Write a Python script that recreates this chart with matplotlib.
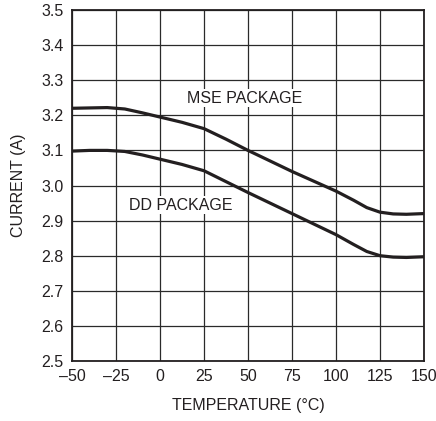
import matplotlib
matplotlib.use("Agg")
import matplotlib.pyplot as plt
from matplotlib import font_manager

# pick a narrow sans if present
names = {f.name for f in font_manager.fontManager.ttflist}
family = "Liberation Sans Narrow" if "Liberation Sans Narrow" in names else "Liberation Sans"
plt.rcParams["font.family"] = [family, "DejaVu Sans"]

temp = [-50, -40, -30, -20, -10, 0, 12.5, 25, 37.5, 50, 62.5, 75, 87.5,
        100, 110, 117.5, 125, 132.5, 140, 150]
mse_current = [3.220, 3.221, 3.222, 3.218, 3.207, 3.195, 3.180, 3.162, 3.132,
               3.100, 3.070, 3.040, 3.012, 2.984, 2.958, 2.937, 2.924, 2.919,
               2.918, 2.920]
dd_current = [3.098, 3.100, 3.100, 3.097, 3.087, 3.075, 3.060, 3.042, 3.011,
              2.980, 2.950, 2.920, 2.890, 2.860, 2.832, 2.812, 2.800, 2.796,
              2.795, 2.797]

xticks = [-50, -25, 0, 25, 50, 75, 100, 125, 150]
xticklabels = ["\u201350", "\u201325", "0", "25", "50", "75", "100", "125", "150"]
yticks = [2.5, 2.6, 2.7, 2.8, 2.9, 3.0, 3.1, 3.2, 3.3, 3.4, 3.5]

fig = plt.figure(figsize=(4.36, 4.21), dpi=100)
ax = fig.add_axes([72 / 436, 1 - 361 / 421, 352 / 436, 351 / 421])

ax.plot(temp, mse_current, color="#231f20", lw=2.3, solid_capstyle="butt")
ax.plot(temp, dd_current, color="#231f20", lw=2.3, solid_capstyle="butt")

ax.set_xlim(-50, 150)
ax.set_ylim(2.5, 3.5)
ax.set_xticks(xticks)
ax.set_xticklabels(xticklabels)
ax.set_yticks(yticks)
ax.set_yticklabels([f"{v:.1f}" for v in yticks])
ax.grid(True, color="#2a2a2a", lw=0.9)
ax.tick_params(length=0, labelsize=11.5, pad=6, colors="#231f20")
for s in ax.spines.values():
    s.set_color("#231f20")
    s.set_linewidth(1.3)

ax.text(48, 3.249, "MSE PACKAGE", fontsize=11.5, ha="center", va="center",
        color="#231f20", bbox=dict(fc="white", ec="none", pad=1))
ax.text(12, 2.944, "DD PACKAGE", fontsize=11.5, ha="center", va="center",
        color="#231f20", bbox=dict(fc="white", ec="none", pad=1))

ax.set_xlabel("TEMPERATURE (\u00b0C)", fontsize=11.5, color="#231f20", labelpad=10)
ax.set_ylabel("CURRENT (A)", fontsize=11.5, color="#231f20", labelpad=11)

fig.savefig("out.png", dpi=100)
